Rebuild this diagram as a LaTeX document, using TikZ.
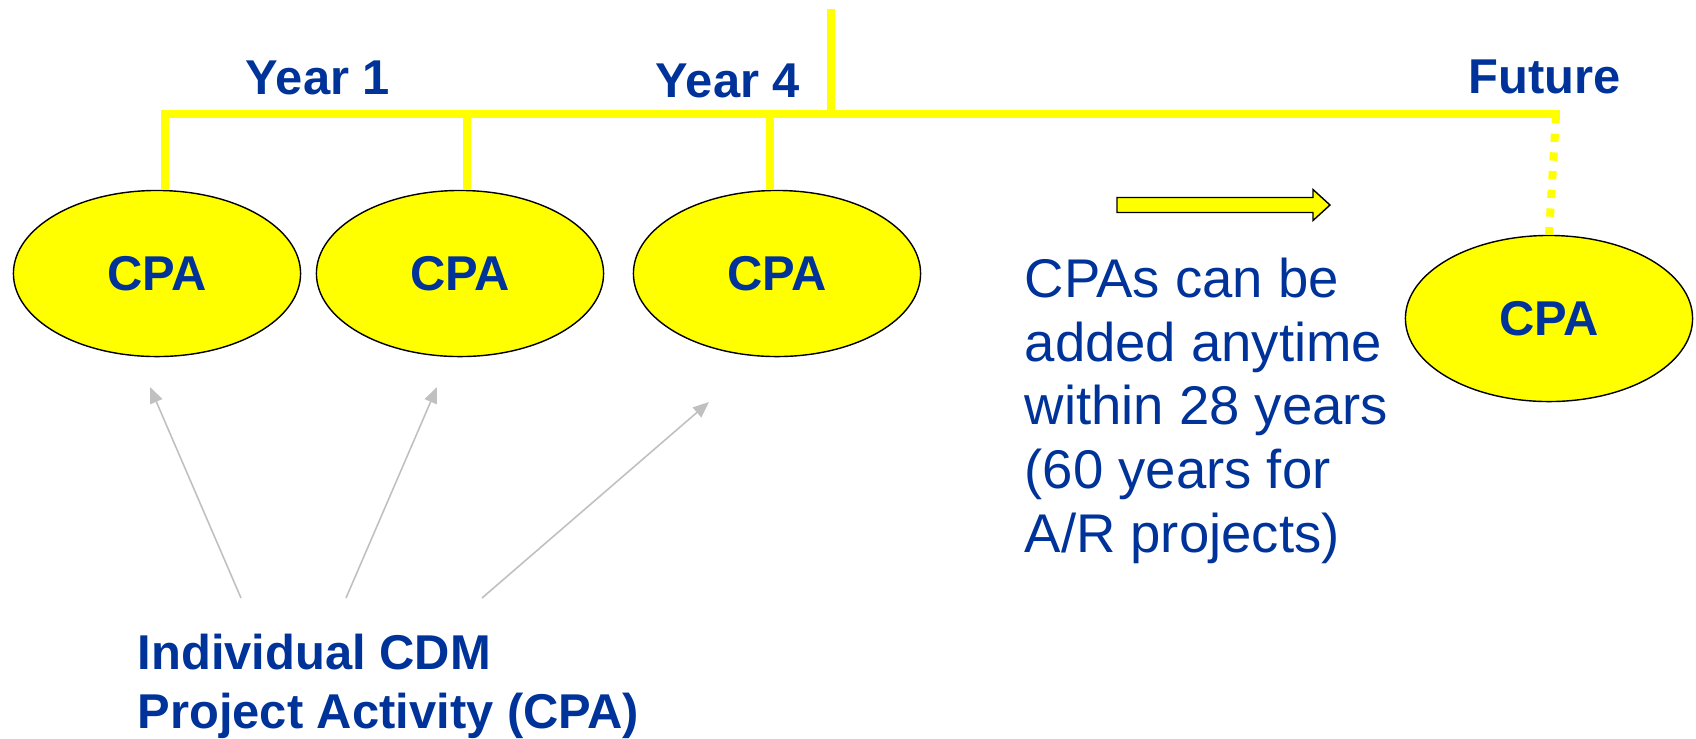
\documentclass[tikz,border=0pt]{standalone}
\usepackage{fontspec}
\setmainfont{Liberation Sans}
\usetikzlibrary{shapes.geometric,arrows.meta}
\definecolor{cdmblue}{RGB}{0,51,153}
\definecolor{cpayellow}{RGB}{255,255,0}
\definecolor{hintgray}{RGB}{192,192,192}

\begin{document}
\begin{tikzpicture}[x=0.01cm,y=-0.01cm,
    cpa/.style={ellipse, draw=black, line width=0.4pt, fill=cpayellow,
      minimum width=2.87cm, minimum height=1.66cm, inner sep=0pt,
      text=cdmblue, font=\fontsize{13.9pt}{16pt}\selectfont\bfseries},
    bar/.style={cpayellow, line width=0.08cm},
    lbl/.style={text=cdmblue, inner sep=0pt,
      font=\fontsize{13.9pt}{16.5pt}\selectfont\bfseries},
    hint/.style={hintgray, line width=0.45pt,
      -{Triangle[length=0.16cm,width=0.13cm]}}]
    \useasboundingbox (0,0) rectangle (1696,738);
    % the CPAs
    \node[cpa] (cpa1) at (157,273.5) {CPA};
    \node[cpa] (cpa2) at (460,273.5) {CPA};
    \node[cpa] (cpa3) at (777,273.5) {CPA};
    \node[cpa] (cpa4) at (1549,318.5) {CPA};
    % time line
    \coordinate (top) at (831,9);
    \coordinate (root) at (831,114);
    \coordinate (b1) at (165,114);
    \coordinate (b2) at (467,114);
    \coordinate (b3) at (770,114);
    \coordinate (b4) at (1556,114);
    \draw[bar] (b1 |- cpa1.north) -- (b1) -- ([xshift=0.04cm]b4);
    \draw[bar] (top) -- (root);
    \draw[bar] (b2) -- (b2 |- cpa2.north);
    \draw[bar] (b3) -- (b3 |- cpa3.north);
    \draw[bar, dash pattern=on 0.083cm off 0.104cm] ([yshift=-0.01cm]b4) -- (cpa4.north);
    \node[lbl, anchor=base] (year1) at (318,94) {Year 1};
    \node[lbl, anchor=base] (year4) at (728,97) {Year 4};
    \node[lbl, anchor=base] (future) at (1545,93) {Future};
    % block arrow
    \draw[line width=0.4pt, fill=cpayellow] (1117,197.5) -- (1313,197.5) -- (1313,189.5)
      -- (1330,205) -- (1313,220.5) -- (1313,212.5) -- (1117,212.5) -- cycle;
    \node[text=cdmblue, inner sep=0pt, anchor=base west, align=left,
      font=\fontsize{15.5pt}{18.07pt}\selectfont] (note) at (1024,552)
      {CPAs can be\\added anytime\\within 28 years\\(60 years for\\A/R projects)};
    % individual CPAs
    \node[lbl, anchor=base west, align=left] (indiv) at (137,728)
      {Individual CDM\\Project Activity (CPA)};
    \coordinate (t1) at (241,598);
    \coordinate (t2) at (346,598);
    \coordinate (t3) at (482,598);
    \coordinate (h1) at (150,387);
    \coordinate (h2) at (437,387);
    \coordinate (h3) at (709,402);
    \draw[hint] (t1) -- (h1);
    \draw[hint] (t2) -- (h2);
    \draw[hint] (t3) -- (h3);
\end{tikzpicture}
\end{document}
